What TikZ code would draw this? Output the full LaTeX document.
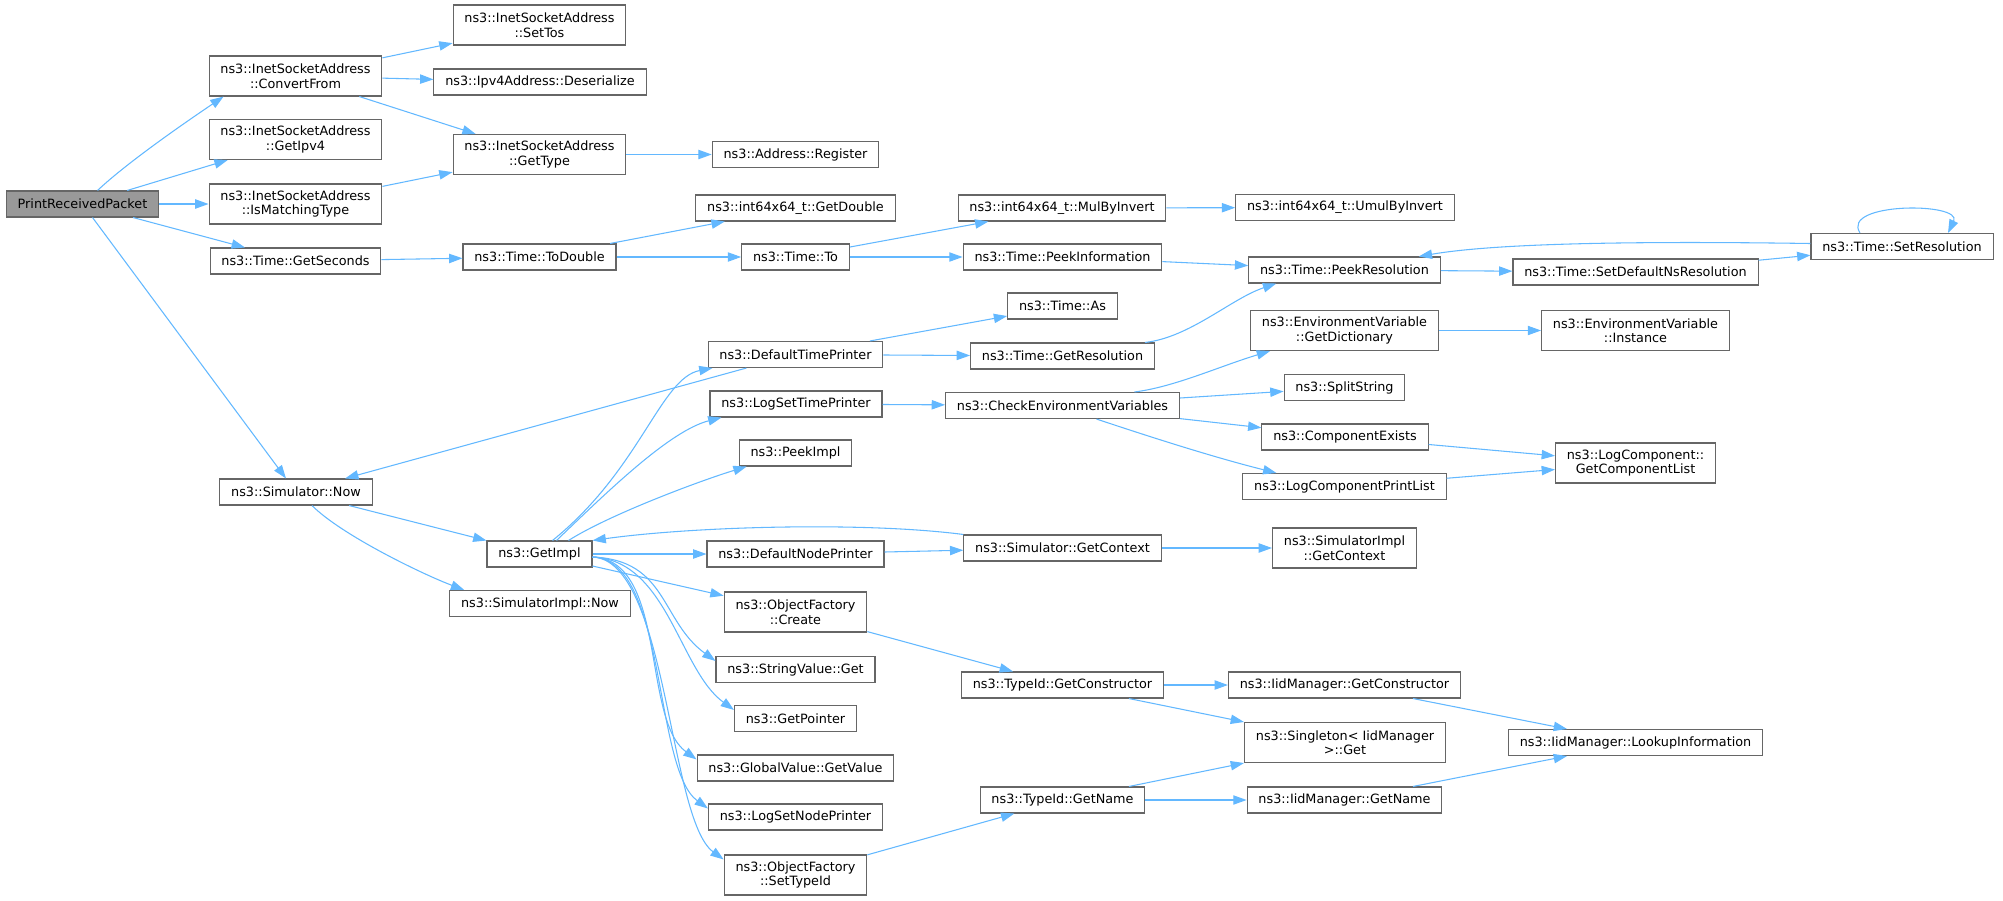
\documentclass[tikz,border=0pt]{standalone}
\usepackage{fontspec}
\setmainfont{DejaVu Sans}
\usepackage{tikz}
\usetikzlibrary{arrows.meta}
\usetikzlibrary{calc}
\definecolor{edgeblue}{HTML}{63B8FF}
\definecolor{boxgray}{HTML}{666666}
\definecolor{rootgray}{HTML}{999999}

\begin{document}
\begin{tikzpicture}[x=0.75pt,y=-0.75pt,
	fn/.style={draw=boxgray,line width=0.8pt,fill=white,inner xsep=8.5pt,inner ysep=3pt,minimum height=19.5pt,align=center,font=\fontsize{9.6pt}{10.9pt}\selectfont},
	two/.style={fn,minimum height=30pt},
	root/.style={fn,fill=rootgray},
	edge/.style={draw=edgeblue,line width=0.8pt,-{Triangle[length=10pt,width=7pt]}}]
\useasboundingbox (0,0) rectangle (2003,900);

%nodes
\node[root] (prp) at (82.5,204) {PrintReceivedPacket};

\node[two] (cvf) at (295.5,76) {ns3::InetSocketAddress\\::ConvertFrom};
\node[two] (gip) at (295.5,139.5) {ns3::InetSocketAddress\\::GetIpv4};
\node[two] (imt) at (295.5,204) {ns3::InetSocketAddress\\::IsMatchingType};
\node[fn] (gsc) at (295.5,261) {ns3::Time::GetSeconds};
\node[fn] (snow) at (296,492) {ns3::Simulator::Now};

\node[two] (stos) at (539.5,25) {ns3::InetSocketAddress\\::SetTos};
\node[fn] (dsr) at (540,82) {ns3::Ipv4Address::Deserialize};
\node[two] (gty) at (539.5,154.5) {ns3::InetSocketAddress\\::GetType};
\node[fn] (tdb) at (539.5,257) {ns3::Time::ToDouble};
\node[fn] (gimpl) at (539.5,554) {ns3::GetImpl};
\node[fn] (simnow) at (540,603.5) {ns3::SimulatorImpl::Now};

\node[fn] (reg) at (795.5,154.5) {ns3::Address::Register};
\node[fn] (gdb) at (795.5,208) {ns3::int64x64\_t::GetDouble};
\node[fn] (tto) at (795.5,257) {ns3::Time::To};
\node[fn] (dtp) at (795.5,354.5) {ns3::DefaultTimePrinter};
\node[fn] (lstp) at (796,404) {ns3::LogSetTimePrinter};
\node[fn] (pim) at (795.5,453) {ns3::PeekImpl};
\node[fn] (dnp) at (795.5,554) {ns3::DefaultNodePrinter};
\node[two] (ofc) at (795.5,612) {ns3::ObjectFactory\\::Create};
\node[fn] (svg) at (795.5,669.5) {ns3::StringValue::Get};
\node[fn] (gpt) at (795.5,718.5) {ns3::GetPointer};
\node[fn] (ggv) at (795.5,768) {ns3::GlobalValue::GetValue};
\node[fn] (lsnp) at (795.5,817) {ns3::LogSetNodePrinter};
\node[two] (ost) at (795.5,875) {ns3::ObjectFactory\\::SetTypeId};

\node[fn] (mbi) at (1062,208) {ns3::int64x64\_t::MulByInvert};
\node[fn] (pin) at (1062.5,257) {ns3::Time::PeekInformation};
\node[fn] (tas) at (1062.5,306) {ns3::Time::As};
\node[fn] (grs) at (1062.5,356) {ns3::Time::GetResolution};
\node[fn] (cev) at (1062.5,405.5) {ns3::CheckEnvironmentVariables};
\node[fn] (sgc) at (1062.5,548) {ns3::Simulator::GetContext};
\node[fn] (tgc) at (1062.5,685) {ns3::TypeId::GetConstructor};
\node[fn] (tgn) at (1062.5,800) {ns3::TypeId::GetName};

\node[fn] (ubi) at (1345,207.5) {ns3::int64x64\_t::UmulByInvert};
\node[fn] (prs) at (1344.5,270) {ns3::Time::PeekResolution};
\node[two] (gdc) at (1344.5,330.5) {ns3::EnvironmentVariable\\::GetDictionary};
\node[fn] (spl) at (1344.5,387.5) {ns3::SplitString};
\node[fn] (cex) at (1345,437) {ns3::ComponentExists};
\node[fn] (lcpl) at (1344.5,486.5) {ns3::LogComponentPrintList};
\node[two] (sigc) at (1344.5,548) {ns3::SimulatorImpl\\::GetContext};
\node[fn] (igc) at (1344.5,685) {ns3::IidManager::GetConstructor};
\node[two] (sgl) at (1345,742.5) {ns3::Singleton< IidManager\\>::Get};
\node[fn] (ign) at (1344.5,800) {ns3::IidManager::GetName};

\node[fn] (sdn) at (1635.5,272) {ns3::Time::SetDefaultNsResolution};
\node[two] (ins) at (1635.5,330.5) {ns3::EnvironmentVariable\\::Instance};
\node[two] (gcl) at (1635.5,463) {ns3::LogComponent::\\GetComponentList};
\node[fn] (lki) at (1635.5,742.5) {ns3::IidManager::LookupInformation};

\node[fn] (srs) at (1902,246.5) {ns3::Time::SetResolution};

%edges
%first column
\draw[edge] ($(prp.north)+(15,0)$) .. controls +(33,-31) and +(-28,19) .. ($(cvf.south west)+(15,0)$);
\foreach \t in {gip,imt,gsc,snow}
	\draw[edge] (prp) -- (\t);
\foreach \t in {stos,dsr,gty}
	\draw[edge] (cvf) -- (\t);
\draw[edge] (imt) -- (gty);
\draw[edge] (gty) -- (reg);
\draw[edge] (gsc) -- (tdb);

%time
\draw[edge] (tdb) -- (gdb);
\draw[edge] (tdb) -- (tto);
\draw[edge] (tto) -- (mbi);
\draw[edge] (tto) -- (pin);
\draw[edge] (mbi) -- (ubi);
\draw[edge] (pin) -- (prs);
\draw[edge] (prs) -- (sdn);
\draw[edge] (sdn) -- (srs);
\draw[edge] ($(srs.west)+(0,-3)$) .. controls +(-200,-3) and +(70,-12) .. ($(prs.north east)+(-22,0)$);
\draw[edge] ($(srs.north)+(-42,0)$) .. controls +(-20,-31) and +(15,-31) .. ($(srs.north)+(46,0)$);
\draw[edge] ($(grs.north east)+(-10,0)$) .. controls +(45,-5) and +(-45,15) .. ($(prs.south west)+(28,0)$);

%simulator
\draw[edge] (snow) -- (gimpl);
\draw[edge] ($(snow.south)+(16,0)$) .. controls +(30,30) and +(-40,-15) .. ($(simnow.north west)+(15,0)$);
\draw[edge] (dtp) -- (snow);
\draw[edge] (dtp) -- (tas);
\draw[edge] (dtp) -- (grs);
\draw[edge] ($(gimpl.north)+(13,0)$) .. controls +(88,-71) and +(-52,10) .. ($(dtp.south west)+(5,0)$);
\draw[edge] ($(gimpl.north)+(17,0)$) .. controls +(53,-51) and +(-51,13) .. ($(lstp.south west)+(12,0)$);
\draw[edge] ($(gimpl.north)+(29,0)$) .. controls +(41,-26) and +(-46,14) .. ($(pim.south west)+(8,0)$);
\draw[edge] (gimpl) -- (dnp);
\draw[edge] (gimpl) -- (ofc);
\foreach \t in {svg,gpt,ggv,lsnp,ost}
	\draw[edge] ($(gimpl.east)+(0,3)$) .. controls +(75,3) and +(-55,-40) .. ($(\t.north west)+(0,5)$);
\draw[edge] (sgc.north west) .. controls +(-100,-13) and +(100,-14) .. (gimpl.north east);
\draw[edge] (dnp) -- (sgc);
\draw[edge] (sgc) -- (sigc);

%environment
\draw[edge] (lstp) -- (cev);
\draw[edge] ($(cev.north)+(72,0)$) .. controls +(40,-5) and +(-50,15) .. ($(gdc.south west)+(20,0)$);
\draw[edge] (cev) -- (spl);
\draw[edge] (cev) -- (cex);
\draw[edge] ($(cev.south)+(34,0)$) .. controls +(60,20) and +(-60,-15) .. ($(lcpl.north west)+(34,0)$);
\draw[edge] (gdc) -- (ins);
\draw[edge] (cex) -- (gcl);
\draw[edge] (lcpl) -- (gcl);

%type id
\draw[edge] (ofc) -- (tgc);
\draw[edge] (tgc) -- (igc);
\draw[edge] (tgc) -- (sgl);
\draw[edge] (igc) -- (lki);
\draw[edge] (ost) -- (tgn);
\draw[edge] (tgn) -- (sgl);
\draw[edge] (tgn) -- (ign);
\draw[edge] (ign) -- (lki);

\end{tikzpicture}
\end{document}
